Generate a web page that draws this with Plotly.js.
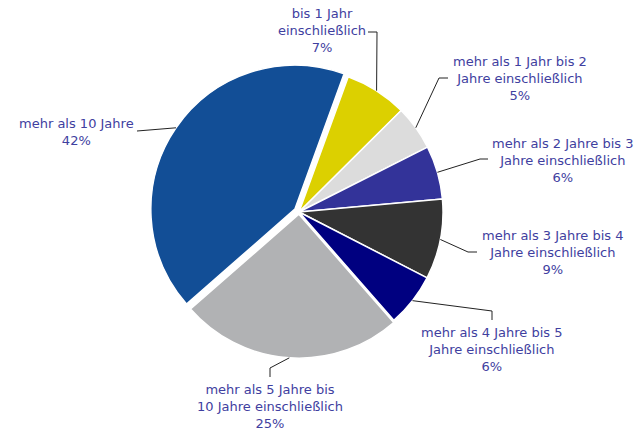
<!DOCTYPE html>
<html>
<head>
<meta charset="utf-8">
<script src="https://cdn.plot.ly/plotly-3.0.1.min.js"></script>
<style>html,body{margin:0;padding:0;background:#fff;}#chart{width:639px;height:430px;}</style>
</head>
<body>
<div id="chart"></div>
<script>
// ---- data ----
const categories = [
  "bis 1 Jahr einschließlich",
  "mehr als 1 Jahr bis 2 Jahre einschließlich",
  "mehr als 2 Jahre bis 3 Jahre einschließlich",
  "mehr als 3 Jahre bis 4 Jahre einschließlich",
  "mehr als 4 Jahre bis 5 Jahre einschließlich",
  "mehr als 5 Jahre bis 10 Jahre einschließlich",
  "mehr als 10 Jahre"
];
const values = [7, 5, 6, 9, 6, 25, 42];
const labelTexts = [
  "bis 1 Jahr<br>einschließlich",
  "mehr als 1 Jahr bis 2<br>Jahre einschließlich",
  "mehr als 2 Jahre bis 3<br>Jahre einschließlich",
  "mehr als 3 Jahre bis 4<br>Jahre einschließlich",
  "mehr als 4 Jahre bis 5<br>Jahre einschließlich",
  "mehr als 5 Jahre bis<br>10 Jahre einschließlich",
  "mehr als 10 Jahre"
];

// ---- styles / layout ----
const colors = ["#dcd000", "#dcdcdc", "#333399", "#333333", "#000080", "#b1b2b4", "#124e96"];
const pulls = [0, 0, 0, 0, 0, 0.015, 0.035];
const W = 639, H = 430;
const cx = 299, cy = 212, R = 144, rotation = 20;
const textColor = "#4040a0";
// label centre positions (px) and leader line start/elbow (px)
const labelPos = [[322, 31], [520, 78], [563, 160], [553, 252], [492, 349], [270, 406], [76, 132]];
const leaderStart = [[368, 32], [448, 78], [488, 159], [477, 252], [492, 320], [270, 377], [137, 131]];
const leaderElbow = [[377, 32], [439, 78], [480, 159], [468, 252], [492, 311], [270, 368], [137, 131]];

const maxPull = Math.max(...pulls);
const half = R * (1 + maxPull);
const px = x => x / W, py = y => 1 - y / H;

const total = values.reduce((a, b) => a + b, 0);
let cum = 0;
const shapes = [], annotations = [];
values.forEach((v, i) => {
  const mid = (rotation + 360 * (cum + v / 2) / total) * Math.PI / 180;
  cum += v;
  const rr = R * (1 + pulls[i]);
  const tx = cx + rr * Math.sin(mid), ty = cy - rr * Math.cos(mid);
  const s = leaderStart[i], e = leaderElbow[i];
  shapes.push({
    type: "path", xref: "paper", yref: "paper",
    path: `M ${px(s[0])} ${py(s[1])} L ${px(e[0])} ${py(e[1])} L ${px(tx)} ${py(ty)}`,
    line: {color: "#222222", width: 1}
  });
  const pct = Math.round(100 * v / total) + "%";
  annotations.push({
    xref: "paper", yref: "paper", x: px(labelPos[i][0]), y: py(labelPos[i][1]),
    xanchor: "center", yanchor: "middle", showarrow: false, align: "center",
    text: labelTexts[i] + "<br>" + pct,
    font: {family: "DejaVu Sans, Verdana, sans-serif", size: 13, color: textColor}
  });
});

const trace = {
  type: "pie",
  labels: categories,
  values: values,
  sort: false,
  direction: "clockwise",
  rotation: rotation,
  pull: pulls,
  textinfo: "none",
  hoverinfo: "label+percent",
  marker: {colors: colors, line: {color: "#ffffff", width: 1.5}},
  domain: {
    x: [px(cx - half), px(cx + half)],
    y: [py(cy + half), py(cy - half)]
  },
  showlegend: false
};

Plotly.newPlot("chart", [trace], {
  width: W, height: H,
  margin: {l: 0, r: 0, t: 0, b: 0},
  paper_bgcolor: "#ffffff",
  showlegend: false,
  shapes: shapes,
  annotations: annotations
}, {staticPlot: true});
</script>
</body>
</html>
